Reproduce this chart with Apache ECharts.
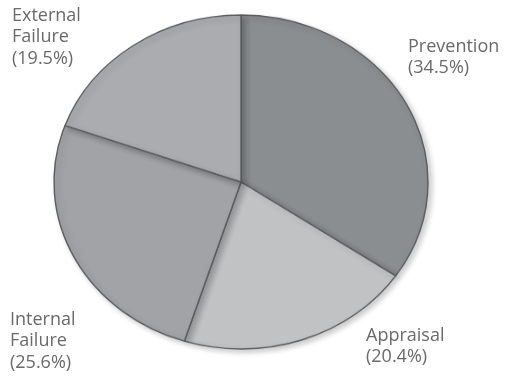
<!DOCTYPE html>
<html>
<head>
<meta charset="utf-8">
<script src="https://cdn.jsdelivr.net/npm/echarts@6/dist/echarts.min.js"></script>
<style>
  html, body { margin: 0; padding: 0; background: #ffffff; }
  #wrap { position: relative; width: 505px; height: 376px; overflow: hidden; }
  #pie { position: absolute; left: 0; top: -40px; width: 505px; height: 456px; }
  #labels { position: absolute; left: 0; top: 0; width: 505px; height: 376px; }
  /* the pie is drawn as an ellipse: squash the slice layer vertically */
  #pie { transform: scaleY(0.893); transform-origin: 241px 222px; }
</style>
</head>
<body>
<div id="wrap">
  <div id="pie"></div>
  <div id="labels"></div>
</div>
<script>
// Cost-of-quality breakdown (percent of total)
const categories = ['Prevention', 'Appraisal', 'Internal\nFailure', 'External\nFailure'];
const shares = [34.5, 20.4, 25.6, 19.5];
const sliceColors = ['#8b8e91', '#c0c2c4', '#a1a3a6', '#aaacaf'];

const data = categories.map((name, i) => ({
  name: name,
  value: shares[i],
  itemStyle: { color: sliceColors[i] }
}));

// slice layer
const pie = echarts.init(document.getElementById('pie'), null, { renderer: 'canvas' });
pie.setOption({
  animation: false,
  series: [{
    type: 'pie',
    center: [241, 222],
    radius: 187,
    startAngle: 90,
    clockwise: true,
    label: { show: false },
    labelLine: { show: false },
    itemStyle: {
      borderColor: '#5c5d5f',
      borderWidth: 1.4,
      shadowColor: 'rgba(0,0,0,0.22)',
      shadowBlur: 6,
      shadowOffsetX: 3,
      shadowOffsetY: 3
    },
    data: data
  }]
});

// label layer (unscaled text)
const labelPos = [
  { x: 408, y: 36 },
  { x: 366, y: 325 },
  { x: 10, y: 309 },
  { x: 12, y: 5 }
];
const labels = echarts.init(document.getElementById('labels'), null, { renderer: 'canvas' });
labels.setOption({
  animation: false,
  graphic: categories.map((name, i) => ({
    type: 'text',
    left: labelPos[i].x,
    top: labelPos[i].y,
    silent: true,
    style: {
      text: name + '\n(' + shares[i].toFixed(1) + '%)',
      font: '18px "Open Sans"',
      lineHeight: 21.5,
      fill: '#6a6a6a'
    }
  }))
});
</script>
</body>
</html>
